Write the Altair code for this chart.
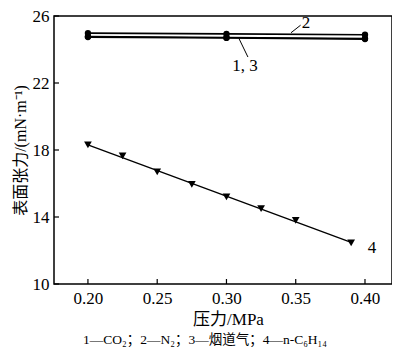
import altair as alt
import pandas as pd

# ---- data ----
pressure_gas = [0.20, 0.30, 0.40]
co2 = [24.78, 24.72, 24.66]
n2 = [24.98, 24.93, 24.88]
flue = [24.74, 24.69, 24.62]

pressure_hex = [0.200, 0.225, 0.250, 0.275, 0.300, 0.325, 0.350, 0.390]
hexane = [18.30, 17.65, 16.70, 15.95, 15.20, 14.50, 13.80, 12.45]

x_ticks = [0.20, 0.25, 0.30, 0.35, 0.40]
y_ticks = [10, 14, 18, 22, 26]

caption = "1—CO₂；2—N₂；3—烟道气；4—n-C₆H₁₄"
x_title = "压力/MPa"
y_title = "表面张力/(mN·m⁻¹)"

# annotation labels (data coordinates)
ann_text = ["2", "1, 3", "4"]
ann_p = [0.3575, 0.3134, 0.405]
ann_v = [25.6, 23.0, 12.15]
lead_p = [0.3466, 0.309]
lead_p2 = [0.3535, 0.3155]
lead_v = [25.0, 24.66]
lead_v2 = [25.45, 23.55]

FONT = "Liberation Serif, Noto Sans CJK SC, serif"

rows = []
for name, vals in [("CO2", co2), ("N2", n2), ("flue", flue)]:
    for p, v in zip(pressure_gas, vals):
        rows.append({"p": p, "v": v, "s": name})
df_gas = pd.DataFrame(rows)
df_hex = pd.DataFrame({"p": pressure_hex, "v": hexane})
df_ann = pd.DataFrame({"p": ann_p, "v": ann_v, "t": ann_text})
df_lead = pd.DataFrame({"p": lead_p, "p2": lead_p2, "v": lead_v, "v2": lead_v2})
df_xt = pd.DataFrame({"p": x_ticks})
df_yt = pd.DataFrame({"v": y_ticks})
df_one = pd.DataFrame({"a": [0]})

xs = alt.Scale(domain=[0.1755, 0.4195], nice=False, zero=False)
ys = alt.Scale(domain=[10, 26], nice=False, zero=False)

PLOT_W = 338
PLOT_H = 268

X_AXIS = alt.Axis(
    values=x_ticks, format=".2f", title=x_title, tickSize=0, ticks=False, labelPadding=6,
    grid=False, domain=False, labelFont=FONT, labelFontSize=17, labelColor="black",
    titleFont=FONT, titleFontSize=17, titleColor="black", titleFontWeight="normal",
    titlePadding=5, titleX=174)
Y_AXIS = alt.Axis(
    values=y_ticks, title=y_title, tickSize=0, ticks=False, labelPadding=5,
    grid=False, domain=False, labelFont=FONT, labelFontSize=17, labelColor="black",
    titleFont=FONT, titleFontSize=16, titleColor="black", titleFontWeight="normal",
    titlePadding=4)
X = alt.X("p:Q", scale=xs, axis=X_AXIS)
Y = alt.Y("v:Q", scale=ys, axis=Y_AXIS)

gas_lines = alt.Chart(df_gas).mark_line(color="black", strokeWidth=1.6).encode(
    x=X, y=Y, detail="s:N")
gas_pts = alt.Chart(df_gas).mark_point(
    shape="circle", filled=True, color="black", size=40, opacity=1).encode(
    x=X, y=Y, detail="s:N")

hex_line = alt.Chart(df_hex).transform_regression(
    "p", "v", extent=[0.2, 0.39]).mark_line(color="black", strokeWidth=1.3).encode(x=X, y=Y)
hex_pts = alt.Chart(df_hex).mark_point(
    shape="triangle-down", filled=True, color="black", size=60, opacity=1).encode(x=X, y=Y)

ann = alt.Chart(df_ann).mark_text(
    font=FONT, fontSize=17, color="black", align="center", baseline="middle").encode(
    x=X, y=Y, text="t:N")
leads = alt.Chart(df_lead).mark_rule(color="black", strokeWidth=1).encode(
    x=X, x2="p2:Q", y=Y, y2="v2:Q")

xt = alt.Chart(df_xt).mark_rule(color="black", strokeWidth=1.2).encode(
    x=X, y=alt.value(PLOT_H), y2=alt.value(PLOT_H - 5))
yt = alt.Chart(df_yt).mark_rule(color="black", strokeWidth=1.2).encode(
    y=Y, x=alt.value(0), x2=alt.value(5))

cap = alt.Chart(df_one).mark_text(
    font=FONT, fontSize=13.5, color="black", align="center", baseline="middle").encode(
    x=alt.value(151), y=alt.value(324), text=alt.value(caption))

chart = alt.layer(gas_lines, gas_pts, hex_line, hex_pts, leads, ann, xt, yt, cap).properties(
    width=PLOT_W, height=PLOT_H,
    autosize=alt.AutoSizeParams(type="none"),
    padding={"left": 46, "top": 8, "right": 0, "bottom": 68},
    background="white",
).configure_view(stroke="black", strokeWidth=1.5)

chart.save("out.html", embed_options={"renderer": "svg", "actions": False})
